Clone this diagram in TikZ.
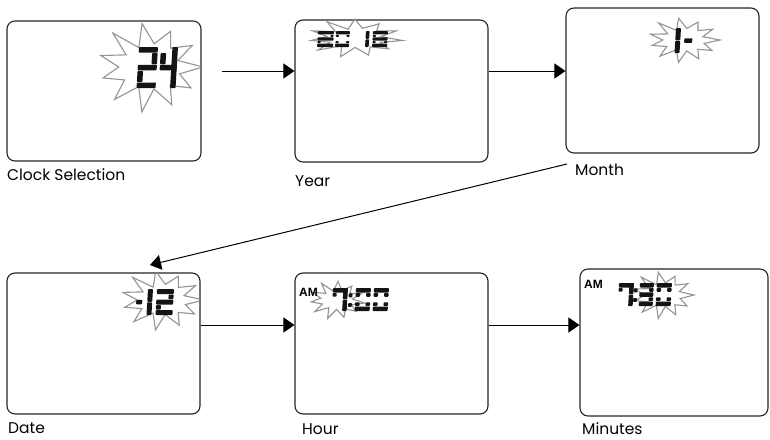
\documentclass[tikz,border=0pt]{standalone}
\usepackage{fontspec}
\setmainfont{Poppins}
\newfontfamily\amfont{Liberation Sans}
\usetikzlibrary{arrows.meta}

\tikzset{
  scr/.style={draw=black!85, line width=1.1pt, rounded corners=8pt, inner sep=0pt},
  arr/.style={draw=black, line width=1pt, -{Triangle[length=11pt,width=15pt]}},
  lbl/.style={anchor=base west, inner sep=0pt, font=\fontsize{15.5}{17}\selectfont},
  amlbl/.style={anchor=base west, inner sep=0pt, font=\amfont\bfseries\fontsize{12}{13}\selectfont},
  lcd/.style={fill=black!92, rounded corners=0.8pt},
  burstline/.style={draw=black!42, line width=1.1pt, line join=miter},
}

% seven-segment pieces (local coords, y downwards)
\def\lcdG{0.5}
\def\lcdsega{\fill[lcd] (0,0) rectangle (\lcdW,\lcdT);}
\def\lcdsegg{\fill[lcd] (0,{\lcdH/2-\lcdT/2}) rectangle (\lcdW,{\lcdH/2+\lcdT/2});}
\def\lcdsegd{\fill[lcd] (0,{\lcdH-\lcdT}) rectangle (\lcdW,\lcdH);}
\def\lcdsegf{\fill[lcd] (0,{\lcdT+\lcdG}) rectangle (\lcdT,{\lcdH/2-\lcdT/2-\lcdG});}
\def\lcdsegb{\fill[lcd] ({\lcdW-\lcdT},{\lcdT+\lcdG}) rectangle (\lcdW,{\lcdH/2-\lcdT/2-\lcdG});}
\def\lcdsege{\fill[lcd] (0,{\lcdH/2+\lcdT/2+\lcdG}) rectangle (\lcdT,{\lcdH-\lcdT-\lcdG});}
\def\lcdsegc{\fill[lcd] ({\lcdW-\lcdT},{\lcdH/2+\lcdT/2+\lcdG}) rectangle (\lcdW,{\lcdH-\lcdT-\lcdG});}
\def\lcdsegB{\fill[lcd] ({\lcdW-\lcdT},0) rectangle (\lcdW,{\lcdH/2-\lcdG/2});}
\def\lcdsegC{\fill[lcd] ({\lcdW-\lcdT},{\lcdH/2+\lcdG/2}) rectangle (\lcdW,\lcdH);}
\def\lcdsegk{\fill[lcd] (0,{\lcdT+\lcdG}) rectangle ({\lcdT*0.9},{\lcdT+\lcdG+\lcdH*0.16});}
\def\lcdsegp{\fill[lcd] ({\lcdW/2-\lcdT/2},{\lcdH*0.32-\lcdT/2}) rectangle ({\lcdW/2+\lcdT/2},{\lcdH*0.32+\lcdT/2});}
\def\lcdsegq{\fill[lcd] ({\lcdW/2-\lcdT/2},{\lcdH*0.74-\lcdT/2}) rectangle ({\lcdW/2+\lcdT/2},{\lcdH*0.74+\lcdT/2});}

% #1 x, #2 y (top left), #3 width, #4 height, #5 thickness, #6 segments
\newcommand\lcddigit[6]{%
  \begin{scope}[shift={(#1,#2)}, xslant=0.06]
    \def\lcdW{#3}\def\lcdH{#4}\def\lcdT{#5}%
    \foreach \s in {#6}{\csname lcdseg\s\endcsname}
  \end{scope}}

% burst: #1 cx, #2 cy, #3 rx, #4 ry, #5 rotation
\newcommand\burst[5]{%
  \draw[burstline] plot[domain=0:21, samples=22]
    ({#1+#3*(1-0.45*mod(\x,2))*(1+0.08*sin(\x*137))*cos(\x*360/22+#5)},
     {#2+#4*(1-0.45*mod(\x,2))*(1+0.08*sin(\x*137))*sin(\x*360/22+#5)}) -- cycle;}

\begin{document}
\begin{tikzpicture}[x=1pt, y=-1pt]
\useasboundingbox (0,0) rectangle (770,439);
\fill[white] (0,0) rectangle (770,439);

% screens
\node[scr, minimum width=194, minimum height=140] (b1) at (104,91) {};
\node[scr, minimum width=193, minimum height=142] (b2) at (391.5,91) {};
\node[scr, minimum width=193, minimum height=145] (b3) at (662.5,80.5) {};
\node[scr, minimum width=193, minimum height=141] (b4) at (103.5,343.5) {};
\node[scr, minimum width=193, minimum height=141] (b5) at (391.5,343.5) {};
\node[scr, minimum width=188, minimum height=147] (b6) at (674,342.5) {};

% labels
\node[lbl] (l1) at (7,180) {Clock Selection};
\node[lbl] (l2) at (295,186) {Year};
\node[lbl] (l3) at (575,175) {Month};
\node[lbl] (l4) at (8,433) {Date};
\node[lbl] (l5) at (302,434) {Hour};
\node[lbl] (l6) at (582,434) {Minutes};

% bursts
\begin{scope}
  \clip (7.6,21.6) rectangle (200.4,160.4);
  \burst{150}{67}{53}{42}{0}
\end{scope}
\burst{355}{38}{48}{18}{8}
\burst{684}{40}{36}{21}{0}
\begin{scope}
  \clip (7.6,273.6) rectangle (199.4,413.4);
  \burst{162}{300}{42}{28}{0}
\end{scope}
\burst{337}{300}{28}{18}{10}
\burst{663}{295}{31}{22}{0}

% 24
\lcddigit{139}{47}{19}{41}{5.5}{a,b,g,e,d}
\lcddigit{161}{47}{17}{41}{5.5}{f,g,B,C}
% 20 16
\lcddigit{318}{31}{16}{16}{3.4}{a,b,g,e,d}
\lcddigit{336}{31}{14}{16}{3.4}{a,b,c,d,e,f}
\lcddigit{366}{31}{3.6}{16}{3.6}{B,C}
\lcddigit{373}{31}{15}{16}{3.4}{a,f,g,e,d,c}
% 1-
\lcddigit{676}{28}{5}{25}{5}{B,C}
\lcddigit{685}{28}{8}{25}{4.5}{g}
% -12
\lcddigit{137}{289}{6}{26}{4.5}{g}
\lcddigit{148}{289}{5}{26}{5}{B,C}
\lcddigit{157}{289}{17}{26}{5}{a,b,g,e,d}
% AM 7:00
\node[amlbl] (am1) at (299,296) {AM};
\lcddigit{333}{288}{15}{23}{4.5}{a,B,C,k}
\lcddigit{348}{288}{6}{23}{3.8}{p,q}
\lcddigit{356}{288}{15}{23}{4.5}{a,b,c,d,e,f}
\lcddigit{374}{288}{15}{23}{4.5}{a,b,c,d,e,f}
% AM 7:30
\node[amlbl] (am2) at (584,288) {AM};
\lcddigit{619}{283}{15}{23}{4.5}{a,B,C,k}
\lcddigit{633}{283}{6}{23}{3.8}{p,q}
\lcddigit{640}{283}{14}{23}{4.5}{a,b,g,c,d}
\lcddigit{657}{283}{15}{23}{4.5}{a,b,c,d,e,f}

% connectors
\coordinate (s1) at (222,71);
\coordinate (r2) at (0,325);
\coordinate (m1) at (567,164);
\coordinate (d1) at (150,265);
\draw[arr] (s1) -- (s1 -| b2.west);
\draw[arr] (b2.east |- s1) -- (s1 -| b3.west);
\draw[arr] (m1) -- (d1);
\draw[arr] (b4.east |- r2) -- (r2 -| b5.west);
\draw[arr] (b5.east |- r2) -- (r2 -| b6.west);
\end{tikzpicture}
\end{document}
